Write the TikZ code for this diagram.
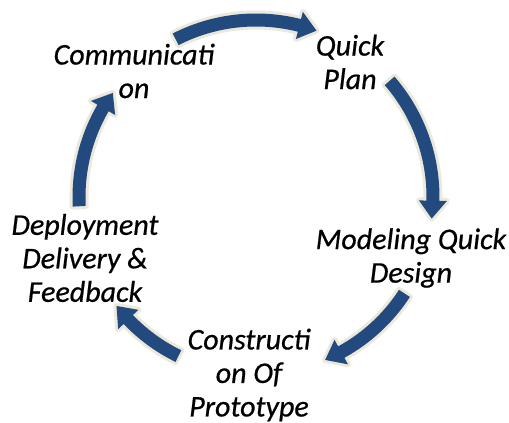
\documentclass[tikz,border=0pt]{standalone}
\usepackage{fontspec}
\setmainfont{Carlito}

\definecolor{cycleblue}{RGB}{35,74,126}
\definecolor{halo}{RGB}{236,233,220}

\tikzset{
  stage/.style={align=center, font=\itshape\addfontfeatures{FakeBold=0.6}\fontsize{30}{33.5}\selectfont, inner sep=0pt},
  cyclearrow/.style={fill=cycleblue, preaction={draw=halo, line width=6pt, line join=round}},
}

% curved block arrow round (hub), tail at angle #1, tip at angle #2
\newcommand{\cycarrow}[2]{%
  \pgfmathsetmacro{\headang}{#2+5.8}
  \path[cyclearrow] ([shift={(#1:183.5)}]hub) arc[start angle=#1, end angle=\headang, radius=183.5]
    -- ([shift={(\headang:191)}]hub) -- ([shift={(#2:177)}]hub) -- ([shift={(\headang:163)}]hub)
    -- ([shift={(\headang:170.5)}]hub) arc[start angle=\headang, end angle=#1, radius=170.5] -- cycle;
}

\begin{document}
\begin{tikzpicture}[x=1pt,y=1pt]
  \useasboundingbox (0,0) rectangle (509,423);
  \coordinate (hub) at (256,226);
  % the five stages
  \node[stage] (comm)   at (134,352) {Communicati\\on};
  \node[stage] (plan)   at (350,361) {Quick\\Plan};
  \node[stage] (design) at (411,165) {Modeling Quick\\Design};
  \node[stage] (proto)  at (249,48)  {Constructi\\on Of\\Prototype};
  \node[stage] (deploy) at (85,165)  {Deployment\\Delivery \&\\Feedback};
  % arrows between them
  \cycarrow{117}{70}
  \cycarrow{41}{-7}
  \cycarrow{-33}{-67}
  \cycarrow{-116}{-142}
  \cycarrow{183}{144}
\end{tikzpicture}
\end{document}
